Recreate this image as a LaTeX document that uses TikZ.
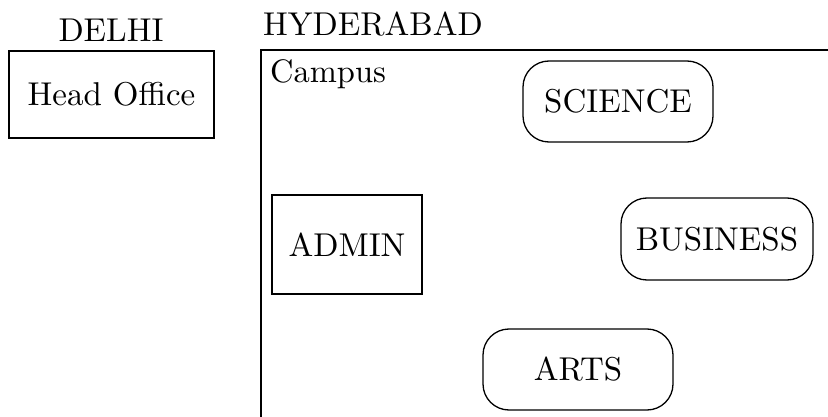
\documentclass[tikz,border=0pt]{standalone}
\font\bigrm="[lmroman10-regular]:+tlig" at 33pt
\font\midrm="[lmroman10-regular]:+tlig" at 32.5pt
\begin{document}
\begin{tikzpicture}[x=1pt,y=-1pt,
  lbl/.style={inner sep=0pt,font=\bigrm},
  sqbox/.style={draw,line width=1.3pt,inner sep=0pt,font=\bigrm},
  rbox/.style={draw,line width=1.3pt,rounded corners=26pt,inner sep=0pt,font=\bigrm}]
\useasboundingbox (0,0) rectangle (828,417);
\clip (0,0) rectangle (828,417);
\node[lbl,anchor=base] (delhi) at (111,42) {DELHI};
\node[sqbox,minimum width=205pt,minimum height=87pt] (ho) at (111.5,94.5) {Head Office};
\node[lbl,anchor=base west] (hyd) at (263,36) {HYDERABAD};
\coordinate (cbl) at (261,440);
\coordinate (ctl) at (261,50);
\coordinate (ctr) at (860,50);
\draw[line width=2pt] (cbl) -- (ctl) -- (ctr);
\node[lbl,font=\midrm,anchor=base west] (campus) at (270,83) {Campus};
\node[rbox,minimum width=190pt,minimum height=81pt] (sci) at (618,101.5) {SCIENCE};
\node[sqbox,minimum width=150pt,minimum height=99pt] (adm) at (347,244.5) {ADMIN};
\node[rbox,minimum width=192pt,minimum height=82pt] (bus) at (717,239) {BUSINESS};
\node[rbox,minimum width=190pt,minimum height=81pt] (arts) at (578,369.5) {ARTS};
\end{tikzpicture}
\end{document}
